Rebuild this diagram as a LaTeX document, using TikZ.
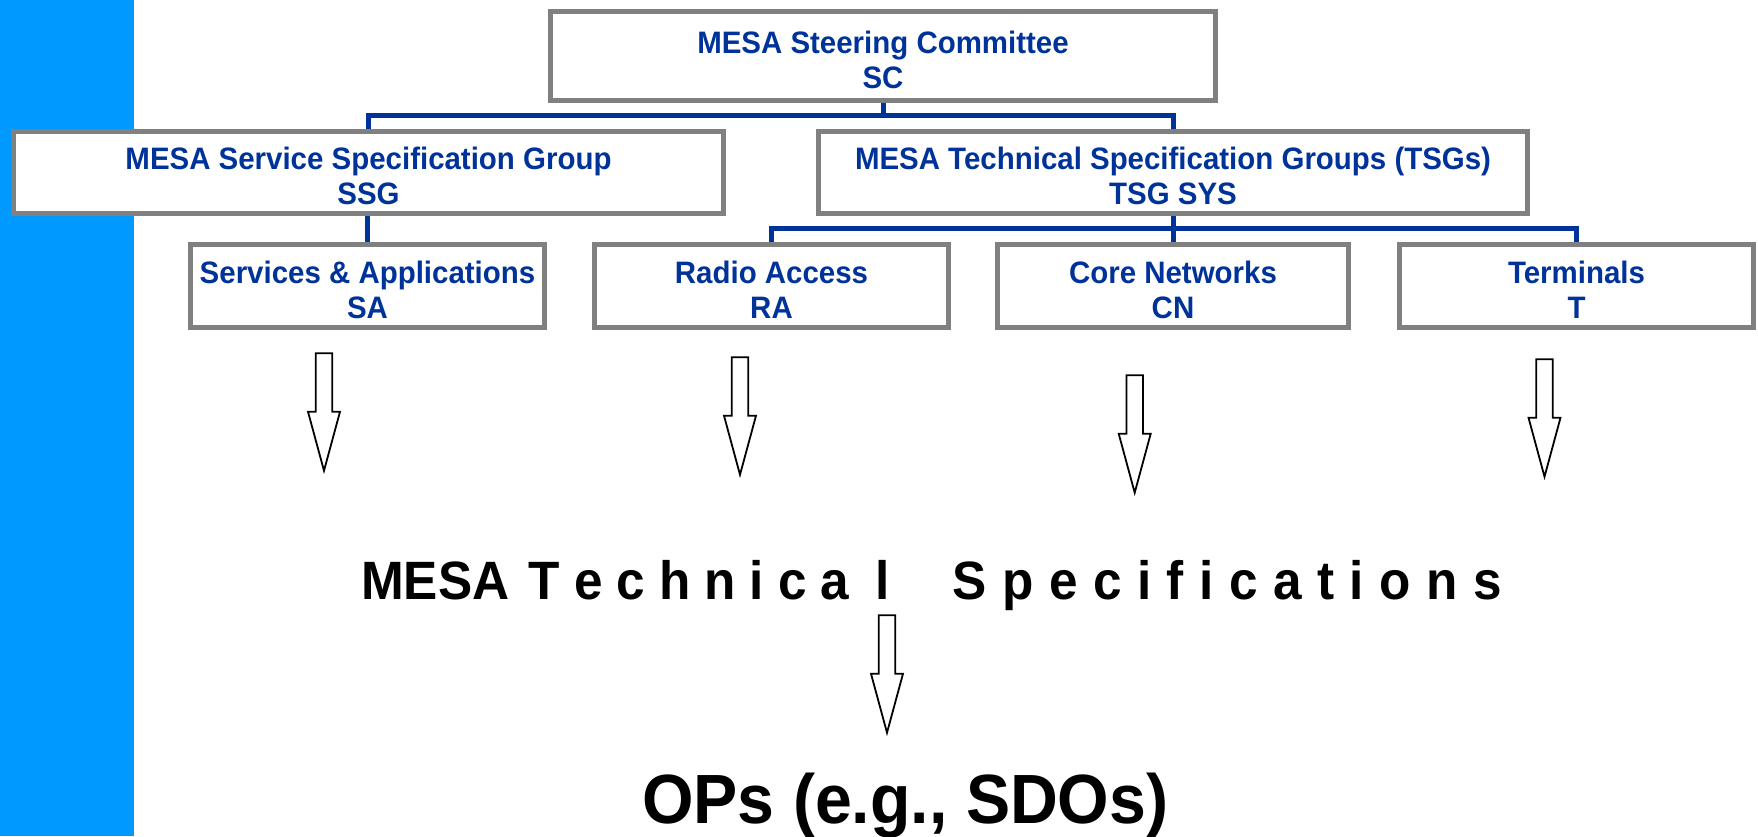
\documentclass[tikz,border=0pt]{standalone}
\usepackage{fontspec}
\setmainfont{Liberation Sans}[FakeStretch=0.95]
\usetikzlibrary{backgrounds}
\definecolor{barblue}{RGB}{0,153,255}
\definecolor{navy}{RGB}{0,51,153}
\definecolor{boxgray}{RGB}{128,128,128}
\newcommand\lsa{\kern14pt}
\newcommand\lsb{\kern15.5pt}
\newcommand\st{\rule{0pt}{29.5pt}}
\tikzset{
  orgbox/.style={rectangle, draw=boxgray, line width=5pt, fill=white, text=navy,
    font=\bfseries\fontsize{31}{35}\selectfont, align=center, inner sep=0pt},
  link/.style={draw=navy, line width=5pt},
  arrowline/.style={draw=black, line width=1.8pt, fill=white, line join=miter},
  downarr/.pic={\path[arrowline] (-8.2,0) -- (8.2,0) -- (8.2,58.4) -- (16,58.4) -- (0,117.4) -- (-16,58.4) -- (-8.2,58.4) -- cycle;},
  bigtext/.style={anchor=base west, inner sep=0pt, text=black}
}
\begin{document}
\begin{tikzpicture}[x=1pt,y=-1pt]
\useasboundingbox (0,0) rectangle (1758,836);
\fill[barblue] (0,0) rectangle (134,836);
% boxes
\node[orgbox, minimum width=665pt, minimum height=89pt] (sc) at (883,56) {\st MESA Steering Committee\\SC};
\node[orgbox, minimum width=709.5pt, minimum height=82pt] (ssg) at (368.5,172.5) {\st MESA Service Specification Group\\SSG};
\node[orgbox, minimum width=709pt, minimum height=82pt] (tsg) at (1173,172.5) {\st MESA Technical Specification Groups (TSGs)\\TSG SYS};
\node[orgbox, minimum width=354pt, minimum height=83pt] (sa) at (367.5,286) {\st Services \& Applications\\SA};
\node[orgbox, minimum width=354pt, minimum height=83pt] (ra) at (771.5,286) {\st Radio Access\\RA};
\node[orgbox, minimum width=351pt, minimum height=83pt] (cn) at (1173,286) {\st Core Networks\\CN};
\node[orgbox, minimum width=354pt, minimum height=83pt] (t) at (1576.5,286) {\st Terminals\\T};
% connectors
\coordinate (j1) at (883,115.7);
\coordinate (j2) at (1173,228.3);
\begin{pgfonlayer}{background}
\draw[link] (sc.south) -- (j1);
\draw[link] (ssg.north) |- (j1) -| (tsg.north);
\draw[link] (sa.north) -- (sa.north |- ssg.south);
\draw[link] (tsg.south) -- (cn.north);
\draw[link] (ra.north) |- (j2) -| (t.north);
\end{pgfonlayer}
% block arrows
\pic at (324,353.3) {downarr};
\pic at (740,357.3) {downarr};
\pic at (1134.7,375.3) {downarr};
\pic at (1544.5,359.3) {downarr};
\pic at (887,615.3) {downarr};
% bottom texts
\node[bigtext, font=\bfseries\fontsize{54}{60}\selectfont] (spec) at (361,599.3)
  {MESA\kern19.5pt T\lsa e\lsa c\lsa h\lsa n\lsa i\lsa c\lsa a\kern26pt l\kern63pt S\lsb p\lsb e\lsb c\lsb i\lsb f\lsb i\lsb c\lsb a\lsb t\lsb i\lsb o\lsb n\lsb s};
\node[bigtext, font=\bfseries\fontsize{69.7}{76}\selectfont] (ops) at (642,823) {OPs (e.g., SDOs)};
\end{tikzpicture}
\end{document}
